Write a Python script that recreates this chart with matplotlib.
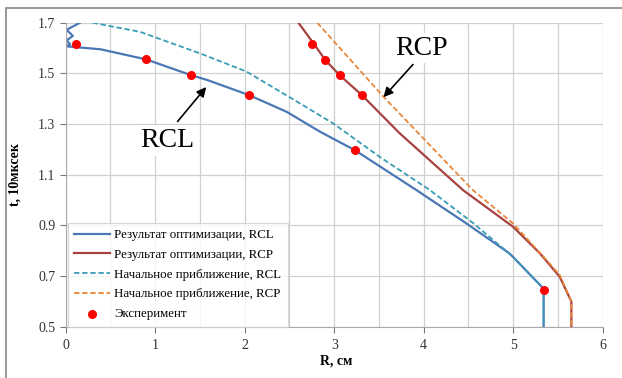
import matplotlib.pyplot as plt
from matplotlib.patches import Rectangle

# Optimized result, RCL (blue solid)
rcl_opt_r = [0.16, 0.01, 0.08, 0.01, 0.05, 0.0, 0.39, 0.90, 1.40, 1.58, 2.05, 2.47, 2.84,
             3.23, 3.92, 4.48, 4.96, 5.34, 5.34]
rcl_opt_t = [1.70, 1.672, 1.648, 1.630, 1.615, 1.607, 1.595, 1.555, 1.493, 1.474, 1.414,
             1.348, 1.27, 1.197, 1.039, 0.907, 0.789, 0.650, 0.50]

# Optimized result, RCP (red solid)
rcp_opt_r = [2.60, 2.77, 2.90, 3.06, 3.31, 3.73, 4.44, 5.00, 5.30, 5.52, 5.65, 5.65]
rcp_opt_t = [1.70, 1.618, 1.553, 1.493, 1.414, 1.264, 1.039, 0.894, 0.789, 0.697, 0.599, 0.50]

# Initial approximation, RCL (teal dashed)
rcl_init_r = [0.30, 0.83, 1.50, 2.02, 2.62, 2.99, 3.51, 4.07, 4.56, 5.00, 5.34, 5.34]
rcl_init_t = [1.70, 1.664, 1.579, 1.507, 1.381, 1.302, 1.170, 1.039, 0.907, 0.775, 0.650, 0.50]

# Initial approximation, RCP (orange dashed)
rcp_init_r = [2.81, 3.55, 4.55, 5.00, 5.37, 5.52, 5.65, 5.65]
rcp_init_t = [1.70, 1.408, 1.039, 0.907, 0.764, 0.704, 0.600, 0.50]

# Experiment points
exp_r = [0.11, 0.90, 1.40, 2.05, 2.75, 2.90, 3.06, 3.31, 3.23, 5.34]
exp_t = [1.616, 1.555, 1.493, 1.414, 1.616, 1.553, 1.493, 1.414, 1.197, 0.645]

x_ticks = [0, 1, 2, 3, 4, 5, 6]
y_ticks = [0.5, 0.7, 0.9, 1.1, 1.3, 1.5, 1.7]

plt.rcParams['font.family'] = ['Liberation Serif', 'DejaVu Serif']

fig = plt.figure(figsize=(6.22, 3.78), dpi=100)
ax = fig.add_axes([65.7 / 622, (378 - 326.7) / 378, (602.7 - 65.7) / 622, (326.7 - 22.7) / 378])

# outer frame of the original picture
fig.patches.append(Rectangle((6 / 622, -0.1), 1.2, (378 - 8) / 378 + 0.1,
                             transform=fig.transFigure, fill=False,
                             edgecolor='#888888', linewidth=1.2))

ax.plot(rcl_opt_r, rcl_opt_t, color='#4a78b5', lw=1.6, label='Результат оптимизации, RCL')
ax.plot(rcp_opt_r, rcp_opt_t, color='#a8423f', lw=1.6, label='Результат оптимизации, RCP')
ax.plot(rcl_init_r, rcl_init_t, color='#3a9cb8', lw=1.3, ls=(0, (3, 1.5)),
        label='Начальное приближение, RCL')
ax.plot(rcp_init_r, rcp_init_t, color='#e8873a', lw=1.3, ls=(0, (3, 1.5)),
        label='Начальное приближение, RCP')
ax.scatter(exp_r, exp_t, color='#ff0000', s=30, zorder=5, label='Эксперимент')

ax.set_xlim(0, 6)
ax.set_ylim(0.5, 1.7)
ax.set_xticks(x_ticks)
ax.set_yticks(y_ticks)
ax.set_xticks([0.5, 1.5, 2.5, 3.5, 4.5, 5.5], minor=True)
ax.tick_params(axis='x', which='minor', length=0)
ax.grid(True, which='both', axis='x', color='#d0d0d0', lw=0.9)
ax.grid(True, which='major', axis='y', color='#d0d0d0', lw=0.9)
ax.tick_params(axis='both', which='major', labelsize=10, colors='#777777',
               labelcolor='#333333', length=4, width=0.8)
ax.tick_params(axis='x', which='major', pad=5)
for side in ['top', 'right']:
    ax.spines[side].set_visible(False)
for side in ['left', 'bottom']:
    ax.spines[side].set_color('#aaaaaa')

fig.text(320 / 622, 1 - 361 / 378, 'R, см', fontsize=10, fontweight='bold',
         ha='left', va='center')
ax.set_ylabel('t, 10мксек', fontsize=10, fontweight='bold', labelpad=12)

# annotations
ax.text(1.14, 1.236, 'RCL', fontsize=20, ha='center', va='center',
        bbox=dict(facecolor='white', edgecolor='none', pad=2))
ax.annotate('', xy=(1.57, 1.446), xytext=(1.25, 1.31),
            arrowprops=dict(arrowstyle='-|>', color='black', lw=1.2,
                            mutation_scale=14, shrinkA=0, shrinkB=0))
ax.text(3.98, 1.60, 'RCP', fontsize=20, ha='center', va='center',
        bbox=dict(facecolor='white', edgecolor='none', pad=2))
ax.annotate('', xy=(3.55, 1.406), xytext=(3.88, 1.535),
            arrowprops=dict(arrowstyle='-|>', color='black', lw=1.2,
                            mutation_scale=14, shrinkA=0, shrinkB=0))

leg = ax.legend(loc='lower left', bbox_to_anchor=(0.004, 0.0), fontsize=9.3,
                frameon=True, fancybox=False, edgecolor='#cccccc',
                handlelength=2.8, borderpad=0.5, labelspacing=0.6,
                handletextpad=0.3, borderaxespad=0.0)
leg.get_frame().set_linewidth(0.8)

fig.savefig('out.png', dpi=100)
